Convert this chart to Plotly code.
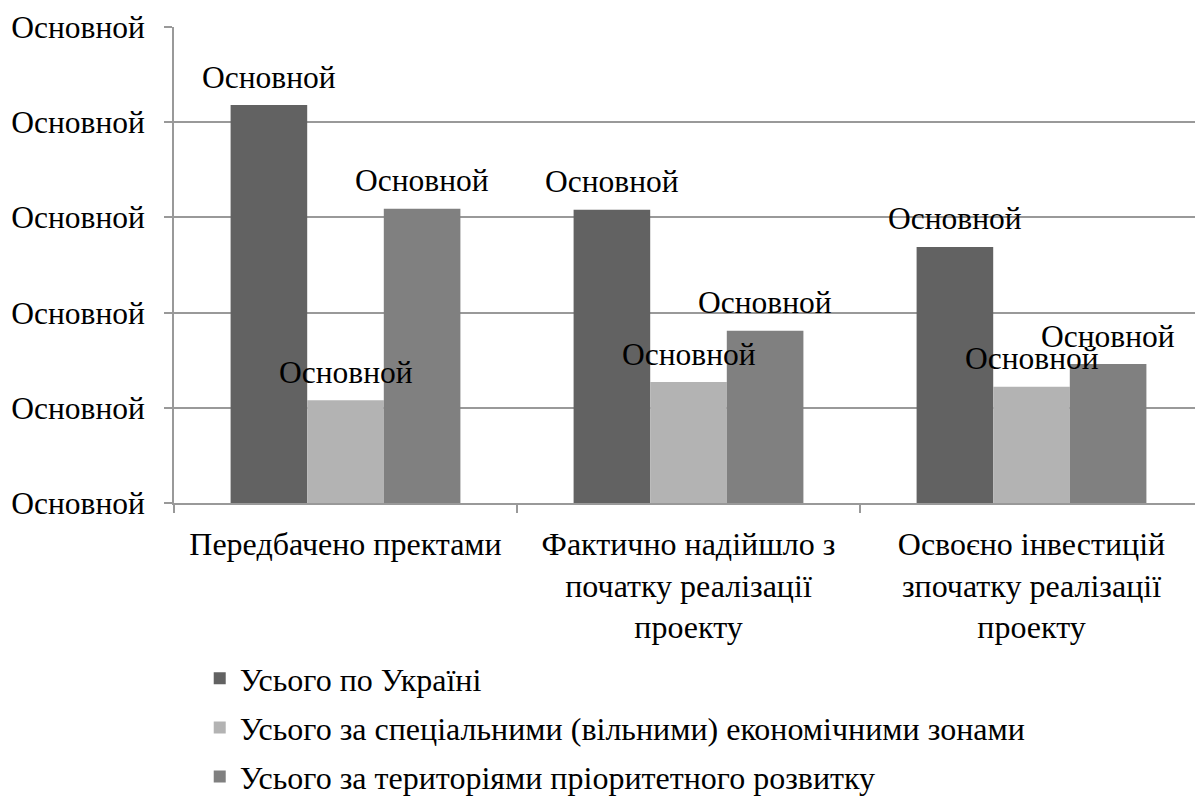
import plotly.graph_objects as go

categories = [
    "Передбачено пректами",
    "Фактично надійшло з<br>початку реалізації<br>проекту",
    "Освоєно інвестицій<br>зпочатку реалізації<br>проекту",
]
series_names = [
    "Усього по Україні",
    "Усього за спеціальними (вільними) економічними зонами",
    "Усього за територіями пріоритетного розвитку",
]
values_ukraine = [4.18, 3.08, 2.69]
values_sez = [1.08, 1.27, 1.22]
values_tpr = [3.09, 1.81, 1.46]
series_values = [values_ukraine, values_sez, values_tpr]
series_colors = ["#626262", "#b3b3b3", "#808080"]
label_text = "Основной"
y_tickvals = [0, 1, 2, 3, 4, 5]
y_ticktext = ["Основной"] * 6

FONT = "Liberation Serif"
BARGAP = 0.33
WIDTH, HEIGHT = 1195, 788
MARGIN = dict(l=166, r=0, t=19, b=293, autoexpand=False)

fig = go.Figure()
for i, (name, vals, col) in enumerate(zip(series_names, series_values, series_colors)):
    fig.add_trace(go.Bar(
        x=categories, y=vals, name=name,
        marker=dict(color=col, line=dict(width=0)),
        legendgroup=f"g{i}",
    ))

# data labels drawn on top of every bar (as in the reference)
plot_w = WIDTH - MARGIN["l"] - MARGIN["r"]
cat_px = plot_w / len(categories)
bar_px = cat_px * (1 - BARGAP) / len(series_names)
for i, vals in enumerate(series_values):
    offset = (i - (len(series_names) - 1) / 2) * bar_px
    for cat, v in zip(categories, vals):
        fig.add_annotation(
            x=cat, y=v, xref="x", yref="y", text=label_text, showarrow=False,
            xanchor="center", yanchor="middle", xshift=offset, yshift=28,
            font=dict(family=FONT, size=31.5, color="black"),
        )

fig.update_layout(
    width=WIDTH, height=HEIGHT,
    margin=MARGIN,
    paper_bgcolor="white", plot_bgcolor="white",
    barmode="group", bargap=BARGAP, bargroupgap=0,
    font=dict(family=FONT, size=31, color="black"),
    showlegend=True,
    legend=dict(
        orientation="v", x=0.025, xanchor="left", y=-0.311, yanchor="top",
        font=dict(family=FONT, size=32, color="black"),
        tracegroupgap=4.5, bgcolor="rgba(0,0,0,0)",
    ),
    xaxis=dict(
        type="category", showline=True, linecolor="#999999", linewidth=1.5,
        ticks="outside", tickson="boundaries", ticklen=8, tickcolor="#999999",
        tickwidth=1.5, showgrid=False,
        tickfont=dict(family=FONT, size=32, color="black"),
        ticklabelstandoff=12, automargin=False,
    ),
    yaxis=dict(
        range=[0, 5], tickvals=y_tickvals, ticktext=y_ticktext,
        showline=True, linecolor="#999999", linewidth=1.5,
        ticks="outside", ticklen=8, tickcolor="#999999", tickwidth=1.5,
        showgrid=True, gridcolor="#999999", gridwidth=1.5, zeroline=False,
        tickfont=dict(family=FONT, size=31.5, color="black"),
        ticklabelstandoff=13, automargin=False,
    ),
)

fig.write_html("out.html")
